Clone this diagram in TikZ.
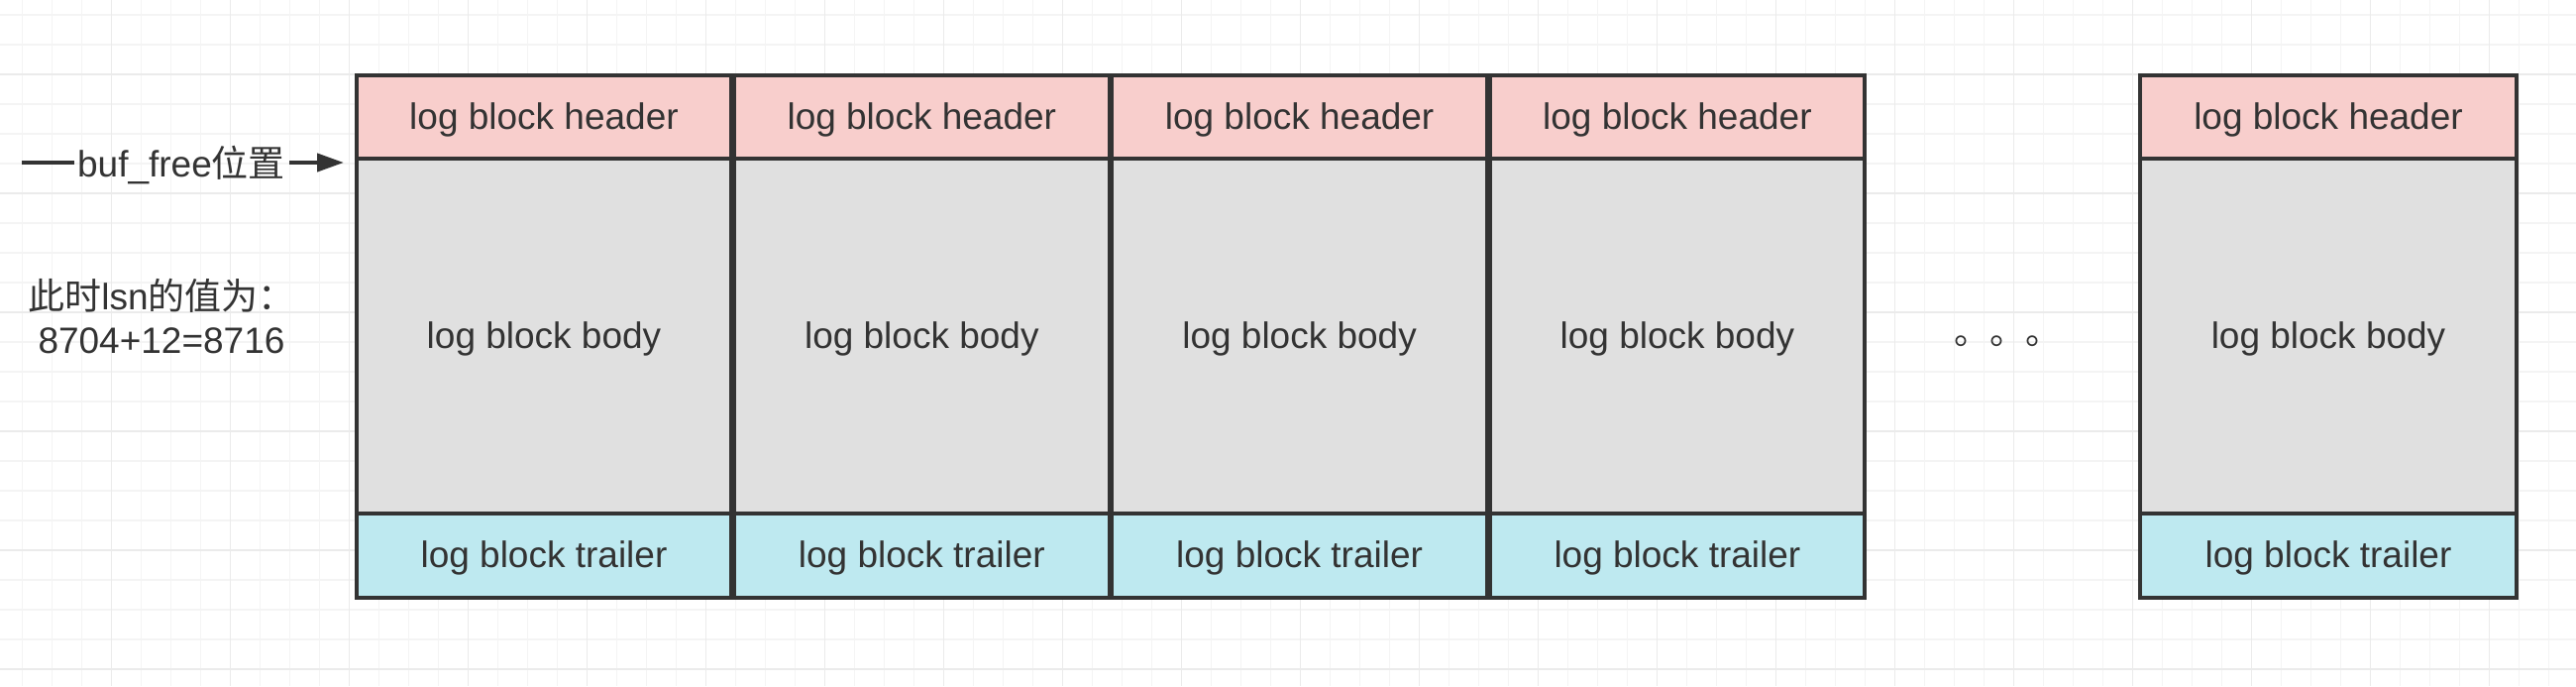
\documentclass[tikz,border=0pt]{standalone}
\usepackage{fontspec}
\setmainfont{Liberation Sans}
\newfontfamily\cjk{Noto Sans CJK SC}
\usetikzlibrary{arrows.meta}
\definecolor{ink}{HTML}{333333}
\definecolor{hdrfill}{HTML}{F8CECC}
\definecolor{bdyfill}{HTML}{E0E0E0}
\definecolor{trlfill}{HTML}{BEE9F0}
\definecolor{gridminor}{HTML}{F4F4F4}
\definecolor{gridmajor}{HTML}{EBEBEB}
\begin{document}
\begin{tikzpicture}[x=0.5pt,y=-0.5pt,
  minorline/.style={draw=gridminor, line width=0.6pt},
  majorline/.style={draw=gridmajor, line width=0.7pt},
  cell/.style={draw=ink, line width=1.75pt, minimum width=189pt, inner sep=0pt, outer sep=0pt,
    font=\fontsize{18.5}{22}\selectfont, text=ink, anchor=north west,
    text height=12.3pt, text depth=0pt},
  hdr/.style={cell, fill=hdrfill, minimum height=42pt},
  bdy/.style={cell, fill=bdyfill, minimum height=179pt},
  trl/.style={cell, fill=trlfill, minimum height=42.5pt},
  label/.style={font=\fontsize{18.5}{21.8}\selectfont, text=ink, inner sep=0pt},
  pointer/.style={draw=ink, line width=2.1pt}
]
\useasboundingbox (0,0) rectangle (2600,692);
\fill[white] (0,0) rectangle (2600,692);
% grid
\foreach \i in {0,...,85} \draw[minorline] (22.7+30*\i,0) -- (22.7+30*\i,692);
\foreach \i in {0,...,22} \draw[minorline] (0,15+30*\i) -- (2600,15+30*\i);
\foreach \i in {0,...,20} \draw[majorline] (112.7+120*\i,0) -- (112.7+120*\i,692);
\foreach \i in {0,...,5} \draw[majorline] (0,75+120*\i) -- (2600,75+120*\i);
% blocks
\foreach \k/\x in {1/360,2/741.3,3/1122.6,4/1503.9} {
  \node[hdr] (h\k) at (\x,76) {log block header};
  \node[bdy] (b\k) at (h\k.south west) {log block body};
  \node[trl] (t\k) at (b\k.south west) {log block trailer};
}
\node[hdr, minimum width=190pt] (h5) at (2160,76) {log block header};
\node[bdy, minimum width=190pt] (b5) at (h5.south west) {log block body};
\node[trl, minimum width=190pt] (t5) at (b5.south west) {log block trailer};
% dots
\node[font=\cjk\fontsize{18}{18}\selectfont, text=ink, anchor=base west, inner sep=0pt] (dots) at (1972,347) {。。。};
% pointer
\coordinate (pstart) at (22,164);
\coordinate (pend) at (347,164);
\node[label, anchor=center] (plabel) at (183,166) {buf\_free{\cjk 位置}};
\draw[pointer] (pstart) -- ([xshift=-1.5pt]plabel.west |- pstart);
\draw[pointer, -{Triangle[length=13.5pt,width=9pt]}] ([xshift=2pt]plabel.east |- pstart) -- (pend);
% lsn note
\node[label, align=center] (note) at (163,319) {{\cjk 此时}lsn{\cjk 的值为：}\\8704+12=8716};
\end{tikzpicture}
\end{document}
